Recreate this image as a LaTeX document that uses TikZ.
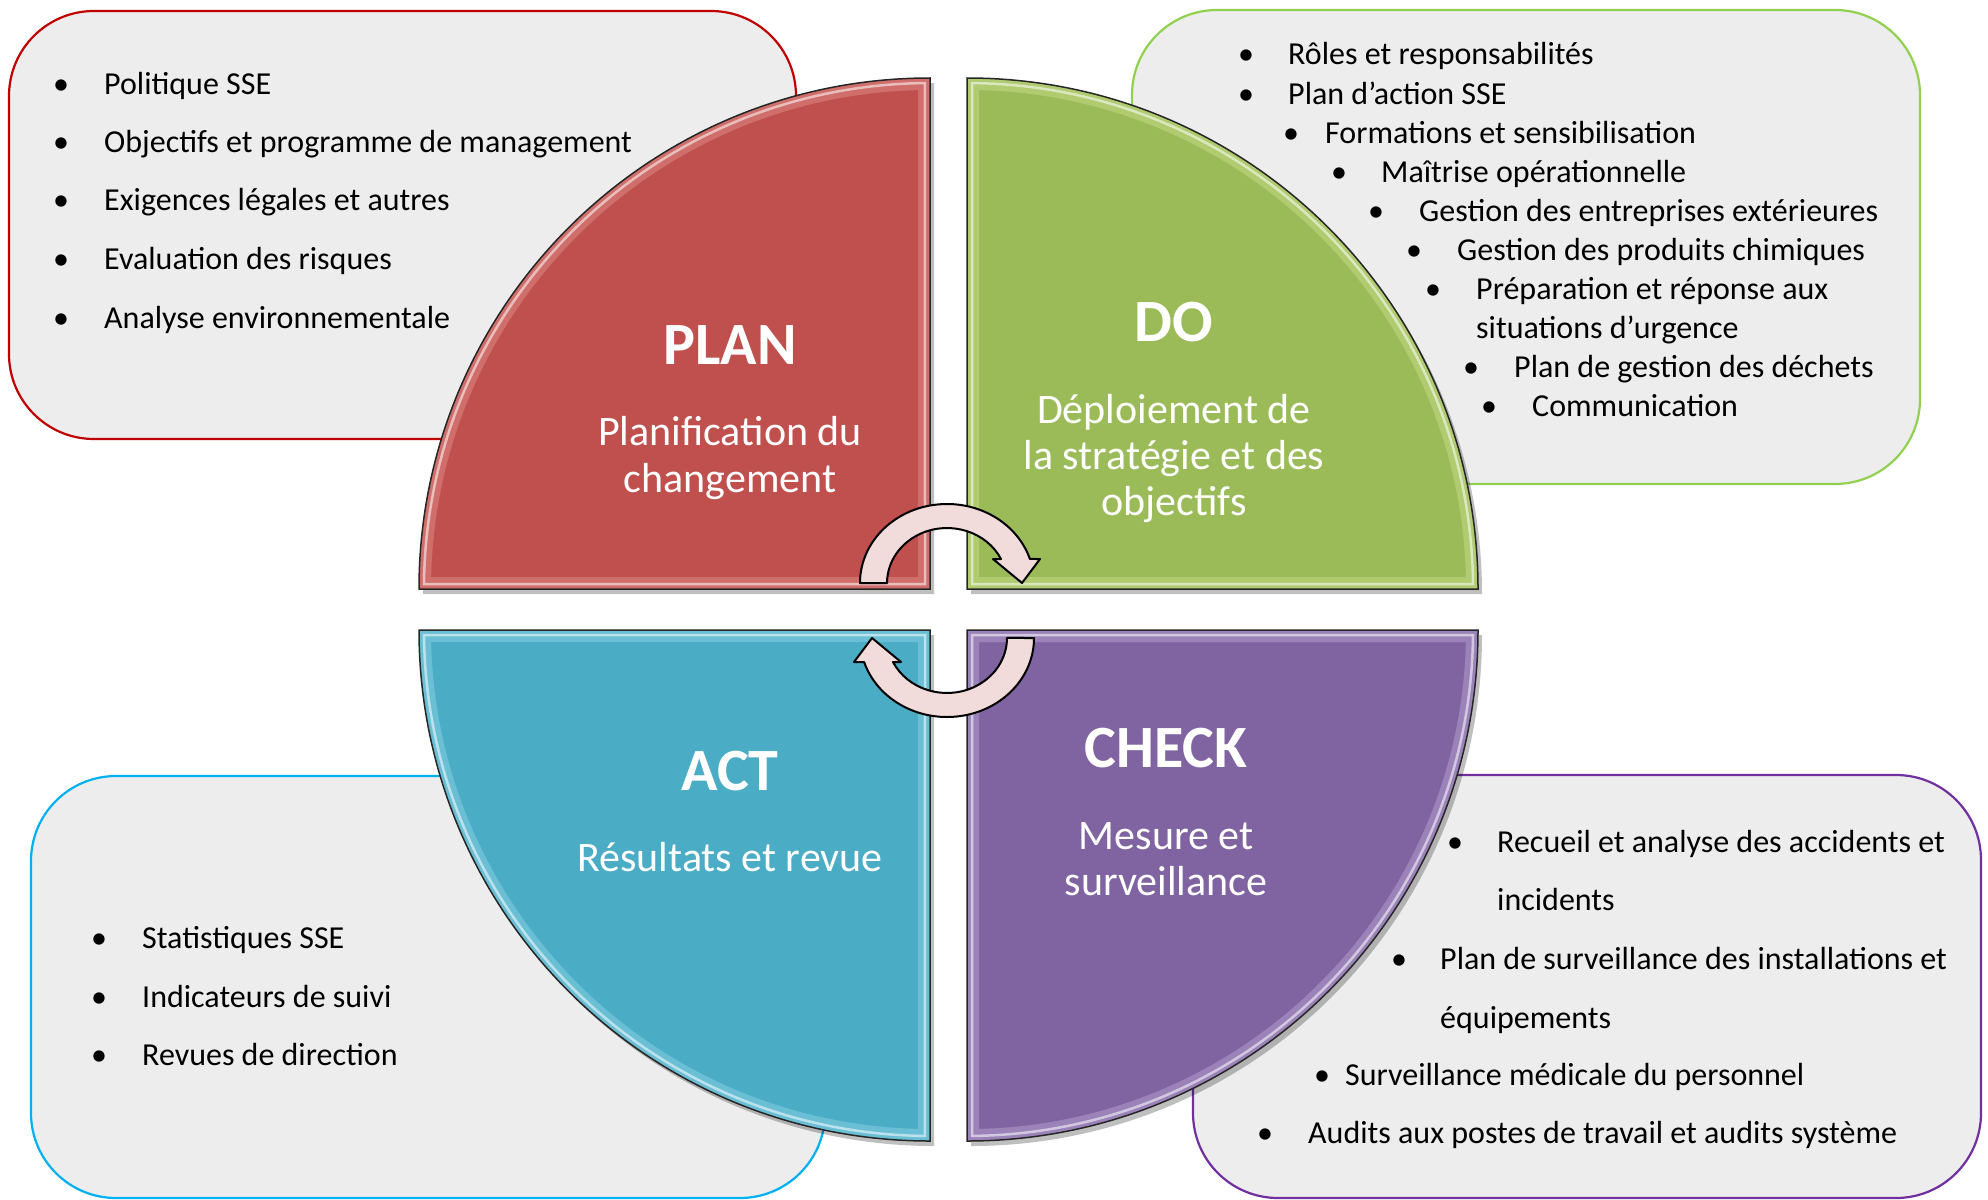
\documentclass[tikz,border=0pt]{standalone}
\usepackage{fontspec}
\setmainfont{Carlito}
\definecolor{qred}{HTML}{C0504D}
\definecolor{qgreen}{HTML}{9BBB59}
\definecolor{qblue}{HTML}{4BACC6}
\definecolor{qpurple}{HTML}{8064A2}
\definecolor{hred}{HTML}{F2B4B2}
\definecolor{hgreen}{HTML}{E2F2A8}
\definecolor{hblue}{HTML}{B4ECF8}
\definecolor{hpurple}{HTML}{DCCCF2}
\definecolor{bred}{HTML}{C00000}
\definecolor{bgreen}{HTML}{92D050}
\definecolor{bblue}{HTML}{00B0F0}
\definecolor{bpurple}{HTML}{7030A0}
\definecolor{boxgray}{HTML}{EDEDED}
\definecolor{arrowfill}{HTML}{F2DCDB}
\tikzset{
  boxtxt/.style={font=\fontsize{32}{38}\selectfont, anchor=base west, inner sep=0pt, text=black},
  bul/.style={font=\fontsize{32}{38}\selectfont, anchor=base, inner sep=0pt, text=black},
  qtitle/.style={font=\bfseries\fontsize{60}{72}\selectfont, text=white, anchor=base, inner sep=0pt},
  qsub/.style={font=\fontsize{42}{47}\selectfont, text=white, anchor=base, inner sep=0pt},
  infobox/.style={fill=boxgray, line width=2.2pt, rounded corners=85pt},
  cyc/.style={fill=arrowfill, draw=black, line width=2pt, line join=round},
}
\newcommand\drawquad[6]{%
  \begin{scope}[shift={(#1+4,#2+5)}, xscale=#3, yscale=#4]
    \fill[black, opacity=.25] (-511,0) arc[start angle=180,end angle=270,radius=511] -- (0,0) -- cycle;
  \end{scope}
  \begin{scope}[shift={(#1,#2)}, xscale=#3, yscale=#4]
    \fill[#5] (-511,0) arc[start angle=180,end angle=270,radius=511] -- (0,0) -- cycle;
    \begin{scope}
      \clip (-511,0) arc[start angle=180,end angle=270,radius=511] -- (0,0) -- cycle;
      \draw[#6, line width=24pt, opacity=.3, line join=miter] (-511,0) arc[start angle=180,end angle=270,radius=511] -- (0,0) -- cycle;
      \draw[white, line width=2.5pt, opacity=.55] (-506,-5) arc[start angle=180.57,end angle=269.43,radius=506] -- (-5,-5) -- cycle;
    \end{scope}
    \draw[black!85, line width=1.5pt] (-511,0) arc[start angle=180,end angle=270,radius=511] -- (0,0) -- cycle;
  \end{scope}}
\begin{document}
\begin{tikzpicture}[x=1pt, y=1pt, yscale=-1]
\useasboundingbox (0,0) rectangle (1988,1199);
\fill[white] (0,0) rectangle (1988,1199);

% information boxes
\draw[infobox, draw=bred] (9,11) rectangle (796,439);
\draw[infobox, draw=bgreen] (1132,10) rectangle (1920,484);
\draw[infobox, draw=bblue] (31,776) rectangle (825,1198);
\draw[infobox, draw=bpurple] (1193,775) rectangle (1981,1198);

% PLAN list
\node[bul] (pb1) at (61,94) {•};  \node[boxtxt] (pt1) at (104,94) {Politique SSE};
\node[bul] (pb2) at (61,152) {•}; \node[boxtxt] (pt2) at (104,152) {Objectifs et programme de management};
\node[bul] (pb3) at (61,210) {•}; \node[boxtxt] (pt3) at (104,210) {Exigences légales et autres};
\node[bul] (pb4) at (61,269) {•}; \node[boxtxt] (pt4) at (104,269) {Evaluation des risques};
\node[bul] (pb5) at (61,328) {•}; \node[boxtxt] (pt5) at (104,328) {Analyse environnementale};

% DO list
\node[bul] (db1) at (1246,65) {•};  \node[boxtxt] (dt1) at (1288,65) {Rôles et responsabilités};
\node[bul] (db2) at (1246,104) {•}; \node[boxtxt] (dt2) at (1288,104) {Plan d’action SSE};
\node[bul] (db3) at (1291,143) {•}; \node[boxtxt] (dt3) at (1325,143) {Formations et sensibilisation};
\node[bul] (db4) at (1339,182) {•}; \node[boxtxt] (dt4) at (1381,182) {Maîtrise opérationnelle};
\node[bul] (db5) at (1376,221) {•}; \node[boxtxt] (dt5) at (1419,221) {Gestion des entreprises extérieures};
\node[bul] (db6) at (1414,260) {•}; \node[boxtxt] (dt6) at (1457,260) {Gestion des produits chimiques};
\node[bul] (db7) at (1433,299) {•}; \node[boxtxt] (dt7) at (1476,299) {Préparation et réponse aux};
\node[boxtxt] (dt7b) at (1476,338) {situations d’urgence};
\node[bul] (db8) at (1471,377) {•}; \node[boxtxt] (dt8) at (1514,377) {Plan de gestion des déchets};
\node[bul] (db9) at (1489,416) {•}; \node[boxtxt] (dt9) at (1532,416) {Communication};

% ACT list
\node[bul] (ab1) at (99,948) {•};  \node[boxtxt] (at1) at (142,948) {Statistiques SSE};
\node[bul] (ab2) at (99,1007) {•}; \node[boxtxt] (at2) at (142,1007) {Indicateurs de suivi};
\node[bul] (ab3) at (99,1065) {•}; \node[boxtxt] (at3) at (142,1065) {Revues de direction};

% CHECK list
\node[bul] (cb1) at (1455,852) {•}; \node[boxtxt] (ct1) at (1497,852) {Recueil et analyse des accidents et};
\node[boxtxt] (ct1b) at (1497,910) {incidents};
\node[bul] (cb2) at (1399,969) {•}; \node[boxtxt] (ct2) at (1440,969) {Plan de surveillance des installations et};
\node[boxtxt] (ct2b) at (1440,1028) {équipements};
\node[bul] (cb3) at (1322,1085) {•}; \node[boxtxt] (ct3) at (1345,1085) {Surveillance médicale du personnel};
\node[bul] (cb4) at (1265,1143) {•}; \node[boxtxt] (ct4) at (1308,1143) {Audits aux postes de travail et audits système};

% quadrants
\drawquad{930}{589}{1}{1}{qred}{hred}
\drawquad{967}{589}{-1}{1}{qgreen}{hgreen}
\drawquad{930}{630}{1}{-1}{qblue}{hblue}
\drawquad{967}{630}{-1}{-1}{qpurple}{hpurple}

% quadrant texts
\node[qtitle] (plan) at (730,364) {PLAN};
\node[qsub] (plan1) at (730,445) {Planification du};
\node[qsub] (plan2) at (730,492) {changement};

\node[qtitle] (do) at (1174,341) {DO};
\node[qsub] (do1) at (1174,423) {Déploiement de};
\node[qsub] (do2) at (1174,469) {la stratégie et des};
\node[qsub] (do3) at (1174,515) {objectifs};

\node[qtitle] (act) at (730,790) {ACT};
\node[qsub] (act1) at (730,871) {Résultats et revue};

\node[qtitle] (check) at (1166,767) {CHECK};
\node[qsub] (check1) at (1166,849) {Mesure et};
\node[qsub] (check2) at (1166,895) {surveillance};

% cycle arrows
\path[cyc] (860,583) arc[start angle=180, end angle=342.3, x radius=87, y radius=79]
  -- (1040,559) -- (1022,583) -- (993,559) -- (1001,559)
  arc[start angle=334.1, end angle=180, x radius=60, y radius=55] -- cycle;
\begin{scope}[rotate around={180:(947,610.5)}]
\path[cyc] (860,583) arc[start angle=180, end angle=342.3, x radius=87, y radius=79]
  -- (1040,559) -- (1022,583) -- (993,559) -- (1001,559)
  arc[start angle=334.1, end angle=180, x radius=60, y radius=55] -- cycle;
\end{scope}
\end{tikzpicture}
\end{document}
